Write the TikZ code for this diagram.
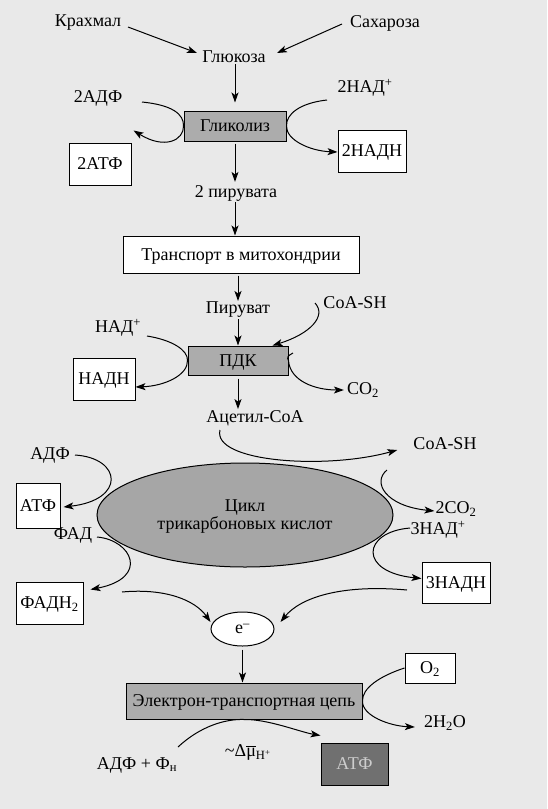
\documentclass[tikz,border=0pt]{standalone}
\usepackage{fontspec}
\setmainfont{Liberation Serif}
\usetikzlibrary{arrows.meta,shapes.geometric,calc}
\definecolor{bg}{RGB}{233,233,233}
\definecolor{boxgray}{RGB}{172,172,172}
\definecolor{ellgray}{RGB}{166,166,166}
\definecolor{darkbox}{RGB}{112,112,112}
\definecolor{lighttext}{RGB}{205,205,205}
\newcommand{\barmu}{\leavevmode\vbox{\hrule height 0.7pt\kern 1.2pt\hbox{μ}}}
\begin{document}
\begin{tikzpicture}[x=1pt,y=-1pt,
  every node/.style={font=\fontsize{18}{21}\selectfont, inner sep=1pt},
  wbox/.style={draw, line width=1pt, fill=white, inner sep=0pt, text depth=0pt},
  gbox/.style={wbox, fill=boxgray},
  arr/.style={line width=1pt, -{Stealth[length=10pt,width=7pt,inset=2.5pt]}},
  ln/.style={line width=1pt}
]
\fill[bg] (0,0) rectangle (547,809);
\useasboundingbox (0,0) rectangle (547,809);

% labels
\node (starch) at (88,23) {Крахмал};
\node (sucrose) at (385,23) {Сахароза};
\node (glucose) at (234,57) {Глюкоза};
\node (adf2) at (98,98) {2АДФ};
\node (nad2) at (365,88) {2НАД\textsuperscript{+}};
\node (pyr2) at (236,193) {2 пирувата};
\node (pyr) at (238,310) {Пируват};
\node (coash1) at (355,303) {CoA-SH};
\node (nad1) at (118,328) {НАД\textsuperscript{+}};
\node (co2) at (363,390) {CO\textsubscript{2}};
\node (acetyl) at (255,418) {Ацетил-CoA};
\node (coash2) at (445,444) {CoA-SH};
\node (adf) at (50,455) {АДФ};
\node (fad) at (73,535) {ФАД};
\node (co2b) at (456,509) {2CO\textsubscript{2}};
\node (nad3) at (438,530) {3НАД\textsuperscript{+}};
\node (h2o) at (445,723) {2H\textsubscript{2}O};
\node (dmu) at (248,752) {\textasciitilde Δ\barmu\textsubscript{H\textsuperscript{+}}};
\node (adfph) at (137,765) {АДФ + Ф\textsubscript{н}};

% boxes
\node[gbox, minimum width=102pt, minimum height=30pt] (glyc) at (235,126) {Гликолиз};
\node[wbox, minimum width=62pt, minimum height=42pt] (atf2) at (100,164) {2АТФ};
\node[wbox, minimum width=68pt, minimum height=42pt] (nadh2) at (372,151) {2НАДН};
\node[wbox, minimum width=236pt, minimum height=37pt] (transport) at (241,254.5) {Транспорт в митохондрии};
\node[gbox, minimum width=100pt, minimum height=29pt] (pdk) at (238,360.5) {ПДК};
\node[wbox, minimum width=62pt, minimum height=42pt] (nadh) at (104,379) {НАДН};
\node[draw, line width=1pt, fill=ellgray, ellipse, minimum width=296pt, minimum height=104pt, inner sep=0pt, align=center] (tca) at (245,515) {};
\node (tcatext) at (245,517) [align=center] {Цикл\\[-3pt]трикарбоновых кислот};
\node[wbox, minimum width=44pt, minimum height=45pt] (atf) at (38,505.5) {АТФ};
\node[wbox, minimum width=67pt, minimum height=42pt] (fadh2) at (49.5,603) {ФАДН\textsubscript{2}};
\node[wbox, minimum width=68pt, minimum height=41pt] (nadh3) at (456,582.5) {3НАДН};
\node[draw, line width=1pt, fill=white, ellipse, minimum width=63pt, minimum height=34pt, inner sep=0pt] (e) at (242.5,629) {e\textsuperscript{–}};
\node[gbox, minimum width=236pt, minimum height=36pt] (etc) at (244,701) {Электрон-транспортная цепь};
\node[wbox, minimum width=50pt, minimum height=30pt] (o2) at (430,668) {O\textsubscript{2}};
\node[wbox, fill=darkbox, text=lighttext, minimum width=67pt, minimum height=42pt] (atfd) at (354.5,764) {АТФ};

% free-end coordinates
\coordinate (sA) at (128,27);
\coordinate (sB) at (342,24);
\coordinate (gl1) at (142,102);
\coordinate (gr1) at (327,100);
\coordinate (cs1) at (315,303);
\coordinate (pl1) at (147,336);
\coordinate (pr1) at (293,353);
\coordinate (ac1) at (220,430);
\coordinate (ad1) at (75,455);
\coordinate (fa1) at (97,537);
\coordinate (rt1) at (387,470);
\coordinate (n31) at (410,528);
\coordinate (el1) at (122,592);
\coordinate (er1) at (407,590);
\coordinate (bt1) at (178,747);

% straight arrows
\draw[arr] (sA) -- (197,53);
\draw[arr] (sB) -- (277,53);
\draw[arr] (glyc.north |- glucose.south) -- ($(glyc.north)+(0,-8)$);
\draw[arr] (glyc.south) ++(0,2) -- ($(glyc.south |- pyr2.north)+(0,-2)$);
\draw[arr] (glyc.south |- pyr2.south) -- (glyc.south |- transport.north);
\draw[arr] (pdk.north |- transport.south) ++(0,2) -- (pdk.north |- pyr.north);
\draw[arr] (pdk.north |- pyr.south) -- (pdk.north);
\draw[arr] (pdk.south) ++(0,3) -- (pdk.south |- acetyl.north);
\draw[arr] (e.south) ++(0,3) -- (e.south |- etc.north);

% glycolysis side curves
\draw[arr] (gl1) .. controls (172,105) and (184,114) .. (glyc.west) .. controls (184,140) and (165,150) .. ($(atf2.north east)+(2,-12)$);
\draw[arr] (gr1) .. controls (300,103) and (286,114) .. (glyc.east) .. controls (286,140) and (310,151) .. ($(nadh2.west)+(0,1)$);

% PDK curves
\draw[arr] (cs1) .. controls (327,316) and (310,334) .. ($(pdk.north east)+(-16,0)$);
\draw[arr] (pl1) .. controls (172,340) and (188,350) .. (pdk.west) .. controls (188,375) and (165,386) .. ($(nadh.east)+(0,8)$);
\draw[arr] (pr1) .. controls (287,356) and (287,358) .. (pdk.east) .. controls (290,381) and (315,390) .. ($(co2.west)+(-2,0)$);

% TCA curves
\draw[arr] (ac1) .. controls (212,462) and (325,470) .. ($(coash2.west)+(-15,6)$);
\draw[arr] (ad1) .. controls (122,458) and (126,500) .. ($(atf.east)+(3,1.5)$);
\draw[arr] (fa1) .. controls (132,540) and (150,578) .. ($(fadh2.north east)+(7,8)$);
\draw[arr] (rt1) .. controls (372,482) and (385,506) .. ($(co2b.west)+(0,2)$);
\draw[arr] (n31) .. controls (362,532) and (358,572) .. ($(nadh3.west)+(0,-4)$);
\draw[arr] (el1) .. controls (165,588) and (195,600) .. ($(e.west)+(0,-7)$);
\draw[arr] (er1) .. controls (340,584) and (300,598) .. ($(e.east)+(6,-7)$);

% ETC curves
\draw[arr] (o2.west) .. controls (380,676) and (362,688) .. (etc.east) .. controls (362,716) and (390,726) .. ($(h2o.west)+(-8,4)$);
\draw[arr] (bt1) .. controls (205,722) and (232,719) .. (etc.south) .. controls (268,719) and (300,732) .. ($(atfd.north west)+(0,-7)$);
\end{tikzpicture}
\end{document}
